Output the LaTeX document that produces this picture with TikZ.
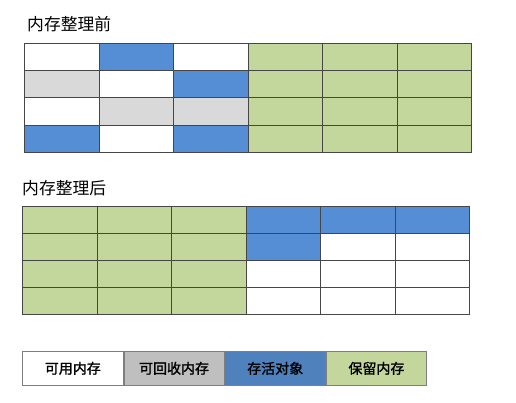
\documentclass[tikz,border=0pt]{standalone}
\usepackage{fontspec}
\newfontfamily\cjk{Noto Sans CJK SC}
\newfontfamily\cjkbold[FakeBold=1.5]{Noto Sans CJK SC}
\definecolor{liveblue}{RGB}{85, 142, 213}
\definecolor{junkgray}{RGB}{217, 217, 217}
\definecolor{keepgreen}{RGB}{195, 214, 155}
\definecolor{gridline}{RGB}{70, 70, 70}
\definecolor{legendgray}{RGB}{191, 191, 191}
\definecolor{legendblue}{RGB}{79, 129, 189}
\usetikzlibrary{positioning}

\begin{document}
\begin{tikzpicture}[
      x=1pt, y=-1pt,
      cell/.style={rectangle, draw=gridline, line width=0.7pt, inner sep=0pt,
                   minimum width=74.5pt, minimum height=27.2pt, anchor=north west},
      free/.style={fill=white},
      junk/.style={fill=junkgray},
      live/.style={fill=liveblue},
      keep/.style={fill=keepgreen},
      title/.style={anchor=west, inner sep=0pt, font=\cjk\fontsize{16.8}{18}\selectfont},
      legend/.style={rectangle, draw=gridline!70, line width=0.7pt, inner sep=0pt,
                     minimum height=34pt, font=\cjkbold\fontsize{14}{16}\selectfont}
    ]
      \useasboundingbox (0,0) rectangle (516,403);

      % Before compaction
      \node[title] (pretitle) at (27,24) {内存整理前};
      \foreach \r/\list in {0/{free,live,free,keep,keep,keep},
                            1/{junk,free,live,keep,keep,keep},
                            2/{free,junk,junk,keep,keep,keep},
                            3/{live,free,live,keep,keep,keep}}
        \foreach \kind [count=\c from 0] in \list
          \node[cell, \kind] (pre-\r-\c) at ({24+\c*74.5},{43+\r*27.25}) {};

      % After compaction
      \node[title] (posttitle) at (22,188) {内存整理后};
      \foreach \r/\list in {0/{keep,keep,keep,live,live,live},
                            1/{keep,keep,keep,live,free,free},
                            2/{keep,keep,keep,free,free,free},
                            3/{keep,keep,keep,free,free,free}}
        \foreach \kind [count=\c from 0] in \list
          \node[cell, \kind] (post-\r-\c) at ({22+\c*74.5},{206+\r*27}) {};

      % Legend
      \node[legend, fill=white, minimum width=101pt, anchor=north west] (lfree) at (22,351) {可用内存};
      \node[legend, fill=legendgray, minimum width=100pt, right=0pt of lfree] (ljunk) {可回收内存};
      \node[legend, fill=legendblue, minimum width=101pt, right=0pt of ljunk] (llive) {存活对象};
      \node[legend, fill=keepgreen, minimum width=100pt, right=0pt of llive] (lkeep) {保留内存};
    \end{tikzpicture}
\end{document}
